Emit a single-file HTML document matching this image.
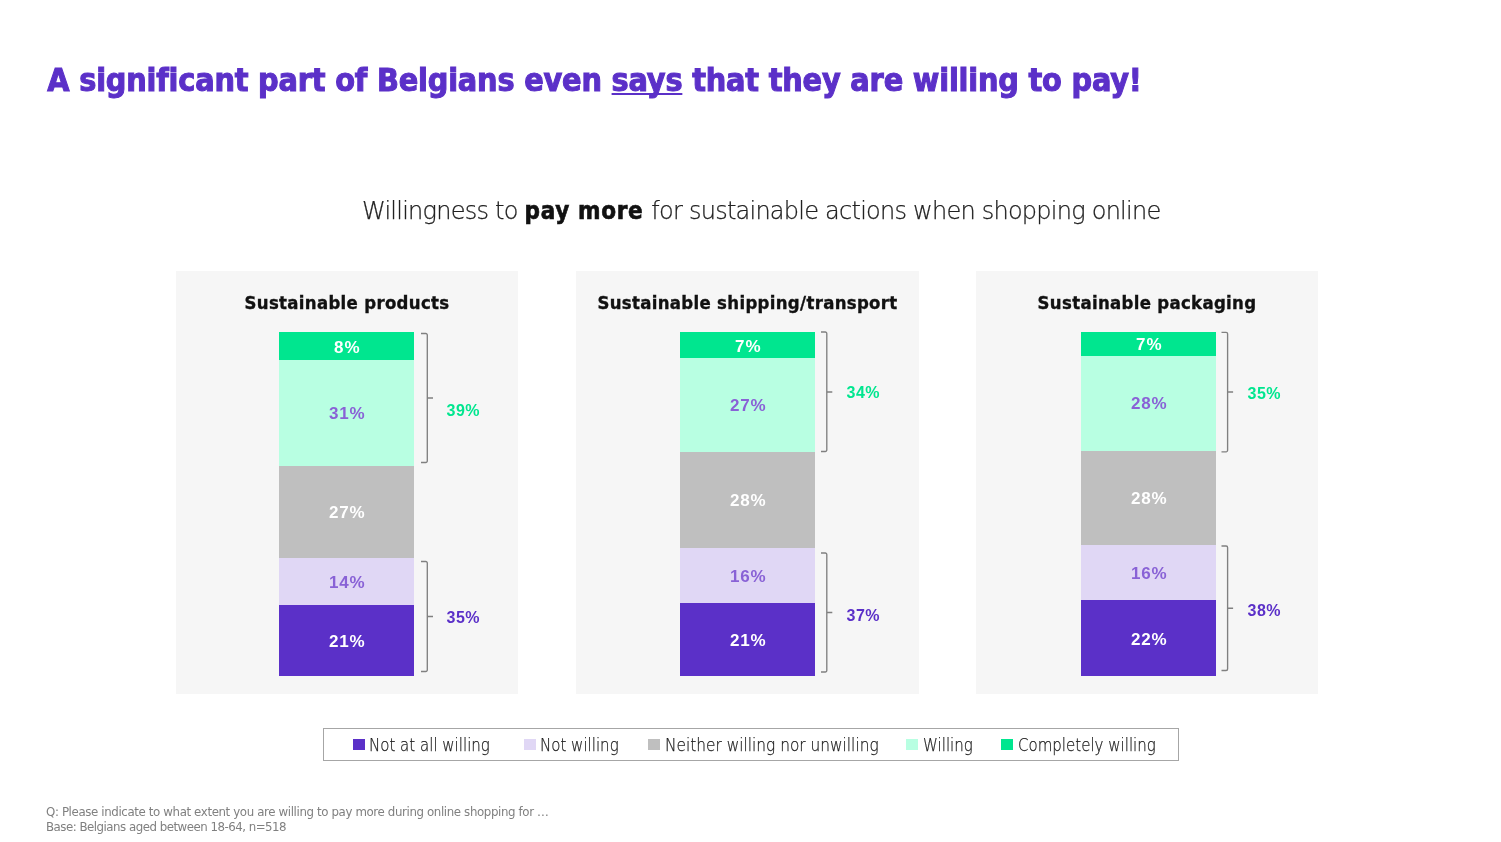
<!DOCTYPE html>
<html lang="en">
<head>
<meta charset="utf-8">
<title>Willingness to pay more</title>
<style>
*{box-sizing:border-box;margin:0;padding:0}
html,body{width:1501px;height:842px;background:#fff;overflow:hidden}
body{position:relative;font-family:"Liberation Sans","DejaVu Sans",sans-serif;color:#1a1a1a}
.abs{position:absolute;white-space:nowrap}
#title{left:47.300px;top:60px;font:bold 32px/40px "DejaVu Sans","Liberation Sans",sans-serif;font-stretch:condensed;color:#5b30c8;letter-spacing:-0.185px;-webkit-text-stroke:1px #5b30c8}
#title u{text-decoration-thickness:2px;text-underline-offset:1.700px;text-decoration-skip-ink:none}
#sub{left:362px;top:195.500px;font:200 24px/30px "DejaVu Sans","Liberation Sans",sans-serif;color:#222;letter-spacing:-0.755px;-webkit-text-stroke:0.25px #222}
#sub b{font-weight:bold;font-stretch:condensed;color:#111;letter-spacing:0.68px;-webkit-text-stroke:0.6px #111;margin:0 1px 0 0}
.panel{position:absolute;top:271px;height:423px;background:#f6f6f6}
.ptitle{position:absolute;left:0;right:0;top:19.500px;text-align:center;font:bold 18.400px/24px "DejaVu Sans","Liberation Sans",sans-serif;font-stretch:condensed;color:#111;white-space:nowrap;letter-spacing:0.33px;-webkit-text-stroke:0.35px #111}
.bar{position:absolute;width:135px;top:61px}
.seg{width:135px;display:flex;align-items:center;justify-content:center;font:bold 17px/20px "Liberation Sans",sans-serif;color:#fff;letter-spacing:0.9px;padding:2px 0 0 1.500px}
.seg.c5{padding-top:4px}
.c5{background:#00e68f}.c4{background:#b8ffe2;color:#8962d6}.c3{background:#bfbfbf}.c2{background:#e0d7f5;color:#8962d6}.c1{background:#5b30c8}
.tot{position:absolute;font:bold 16px/20px "Liberation Sans",sans-serif;white-space:nowrap;letter-spacing:0.5px;margin:1px 0 0 0.5px}
.g{color:#00e68f}.p{color:#5b30c8}
svg.br{position:absolute;left:0;top:0;overflow:visible}
#legend{left:323px;top:728px;width:856px;height:33px;border:1px solid #a6a6a6;background:#fff}
.li{position:absolute;top:4.500px;font:200 18px/22px "DejaVu Sans","Liberation Sans",sans-serif;color:#1c1c1c;white-space:nowrap;transform:scaleX(0.835);transform-origin:0 50%;-webkit-text-stroke:0.25px #1c1c1c}
.sw{position:absolute;top:10px;width:12px;height:11px}
#foot{left:46px;top:804.800px;font:11.800px/14.800px "DejaVu Sans","Liberation Sans",sans-serif;color:#808080;letter-spacing:-0.5px}
</style>
</head>
<body>
<div id="title" class="abs">A significant part of Belgians even <u>says</u> that they are willing to pay!</div>
<div id="sub" class="abs">Willingness to <b>pay more</b> for sustainable actions when shopping online</div>

<div class="panel" id="p1" style="left:176px;width:342px">
  <div class="ptitle">Sustainable products</div>
  <div class="bar" style="left:103px">
    <div class="seg c5" style="height:28px">8%</div>
    <div class="seg c4" style="height:106px">31%</div>
    <div class="seg c3" style="height:92px">27%</div>
    <div class="seg c2" style="height:47px">14%</div>
    <div class="seg c1" style="height:71px">21%</div>
  </div>
  <svg class="br" width="342" height="423"><path d="M245 62.5h4.800a1.500 1.500 0 0 1 1.500 1.500v126a1.500 1.500 0 0 1-1.500 1.500h-4.800M251.300 127h5.700M245 290.500h4.800a1.500 1.500 0 0 1 1.500 1.500v107a1.500 1.500 0 0 1-1.500 1.500h-4.800M251.300 345.500h5.700" fill="none" stroke="#808080" stroke-width="1.350"/></svg>
  <div class="tot g" style="left:270px;top:129px">39%</div>
  <div class="tot p" style="left:270px;top:336px">35%</div>
</div>

<div class="panel" id="p2" style="left:576px;width:343px">
  <div class="ptitle">Sustainable shipping/transport</div>
  <div class="bar" style="left:104px">
    <div class="seg c5" style="height:26px">7%</div>
    <div class="seg c4" style="height:94px">27%</div>
    <div class="seg c3" style="height:96px">28%</div>
    <div class="seg c2" style="height:55px">16%</div>
    <div class="seg c1" style="height:73px">21%</div>
  </div>
  <svg class="br" width="343" height="423"><path d="M245 61h4.300a1.500 1.500 0 0 1 1.500 1.500v116.500a1.500 1.500 0 0 1-1.500 1.500h-4.300M250.800 121h5.500M245 282h4.300a1.500 1.500 0 0 1 1.500 1.500v116a1.500 1.500 0 0 1-1.500 1.500h-4.300M250.800 341.500h5.500" fill="none" stroke="#808080" stroke-width="1.350"/></svg>
  <div class="tot g" style="left:270px;top:111px">34%</div>
  <div class="tot p" style="left:270px;top:334px">37%</div>
</div>

<div class="panel" id="p3" style="left:976px;width:342px">
  <div class="ptitle">Sustainable packaging</div>
  <div class="bar" style="left:105px">
    <div class="seg c5" style="height:24px;padding-top:2px">7%</div>
    <div class="seg c4" style="height:95px;padding-top:0">28%</div>
    <div class="seg c3" style="height:94px">28%</div>
    <div class="seg c2" style="height:55px">16%</div>
    <div class="seg c1" style="height:76px;padding-top:4px">22%</div>
  </div>
  <svg class="br" width="342" height="423"><path d="M245.500 61.300h4.600a1.500 1.500 0 0 1 1.500 1.500v116.500a1.500 1.500 0 0 1-1.500 1.500h-4.600M251.600 121h5.500M245.500 275h4.600a1.500 1.500 0 0 1 1.500 1.500v121.500a1.500 1.500 0 0 1-1.500 1.500h-4.600M251.600 337.200h5.500" fill="none" stroke="#808080" stroke-width="1.350"/></svg>
  <div class="tot g" style="left:271px;top:112px">35%</div>
  <div class="tot p" style="left:271px;top:329px">38%</div>
</div>

<div id="legend" class="abs">
  <span class="sw" style="left:29px;background:#5b30c8"></span><span class="li" style="left:45px">Not at all willing</span>
  <span class="sw" style="left:200px;background:#e0d7f5"></span><span class="li" style="left:216px">Not willing</span>
  <span class="sw" style="left:324px;background:#bfbfbf"></span><span class="li" style="left:341px;transform:scaleX(0.854)">Neither willing nor unwilling</span>
  <span class="sw" style="left:582px;background:#b8ffe2"></span><span class="li" style="left:599px">Willing</span>
  <span class="sw" style="left:677px;background:#00e68f"></span><span class="li" style="left:694px">Completely willing</span>
</div>

<div id="foot" class="abs"><span style="letter-spacing:-0.375px">Q: Please indicate to what extent you are willing to pay more during online shopping for …</span><br>Base: Belgians aged between 18-64, n=518</div>
</body>
</html>
